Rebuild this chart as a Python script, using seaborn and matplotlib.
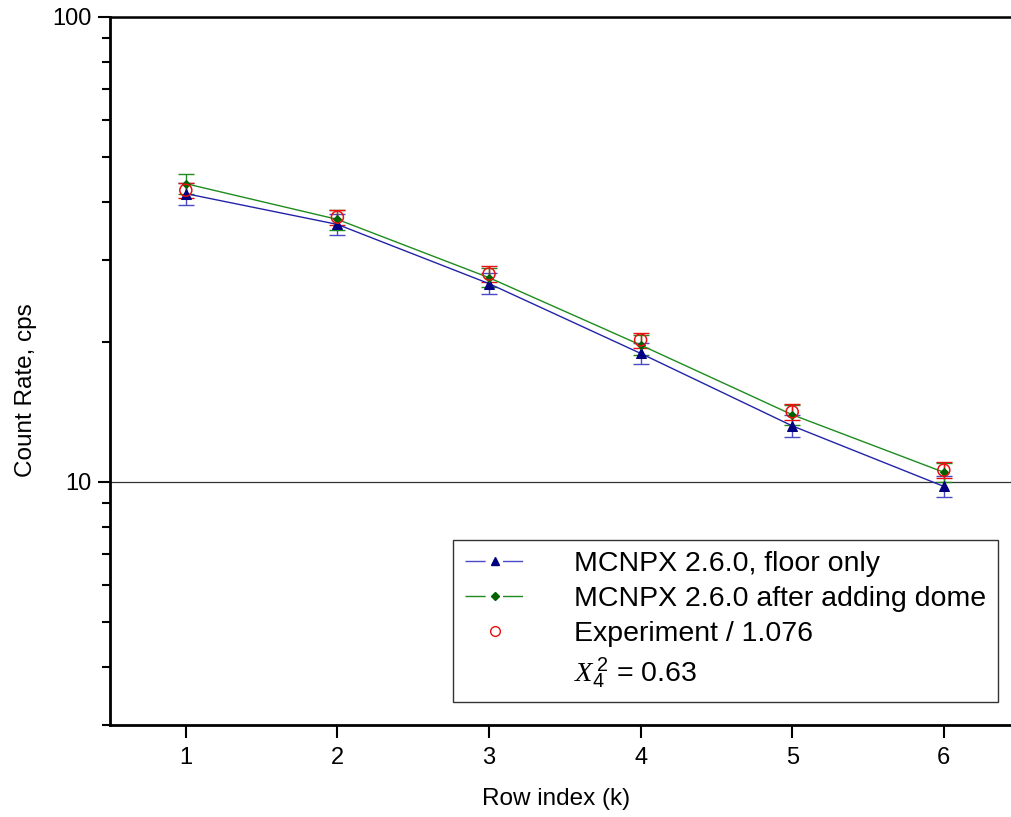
import numpy as np
import pandas as pd
import matplotlib
matplotlib.use("Agg")
import matplotlib.pyplot as plt
import seaborn as sns
from matplotlib.lines import Line2D
from matplotlib.ticker import LogLocator, NullFormatter, FixedLocator, FixedFormatter

# data
rows = [1, 2, 3, 4, 5, 6]
floor_only = [41.7, 35.8, 26.7, 18.9, 13.2, 9.78]
floor_err = [2.2, 1.9, 1.4, 1.0, 0.7, 0.52]
with_dome = [43.8, 36.7, 27.5, 19.7, 13.95, 10.49]
dome_err = [2.1, 1.8, 1.3, 0.95, 0.68, 0.5]
experiment = [42.4, 37.1, 28.0, 20.2, 14.15, 10.6]
exp_err = [1.6, 1.4, 1.1, 0.75, 0.55, 0.42]

labels = ["MCNPX 2.6.0, floor only",
          "MCNPX 2.6.0 after adding dome",
          "Experiment / 1.076"]

df = pd.DataFrame({"row": rows, "floor": floor_only, "dome": with_dome, "exp": experiment})

sns.set_style("ticks")
plt.rcParams["font.family"] = ["Liberation Sans", "DejaVu Sans"]
plt.rcParams["mathtext.fontset"] = "custom"
plt.rcParams["mathtext.it"] = "Liberation Serif:italic"
plt.rcParams["mathtext.rm"] = "Liberation Sans"
for k in ["text.color", "axes.labelcolor", "xtick.color", "ytick.color", "axes.edgecolor"]:
    plt.rcParams[k] = "black"

fig = plt.figure(figsize=(10.12, 8.17), dpi=100)
ax = fig.add_axes([110 / 1012, 92 / 817, 909.6 / 1012, 708 / 817])

blue_line = "#2323a8"
blue_mark = "#000080"
blue_err = "#4a4ac8"
green_line = "#1e8c1e"
green_mark = "#006400"
red = "#e81010"

# error bars
ax.errorbar(rows, floor_only, yerr=floor_err, fmt="none", ecolor=blue_err,
            elinewidth=1, capsize=6, capthick=1, zorder=2)
ax.errorbar(rows, with_dome, yerr=dome_err, fmt="none", ecolor=green_line,
            elinewidth=1, capsize=6, capthick=1, zorder=2)
ax.errorbar(rows, experiment, yerr=exp_err, fmt="none", ecolor=red,
            elinewidth=1, capsize=6, capthick=1, zorder=2)

sns.lineplot(data=df, x="row", y="floor", ax=ax, color=blue_line, lw=1,
             marker="^", markersize=7, markerfacecolor=blue_mark,
             markeredgecolor=blue_mark, zorder=3)
sns.lineplot(data=df, x="row", y="dome", ax=ax, color=green_line, lw=1,
             marker="D", markersize=4.5, markerfacecolor=green_mark,
             markeredgecolor=green_mark, zorder=3)
sns.scatterplot(data=df, x="row", y="exp", ax=ax, marker="o", s=75,
                facecolor="none", edgecolor=red, linewidth=1.1, zorder=4)

ax.set_yscale("log")
ax.set_xlim(0.5, 6.5)
ax.set_ylim(3, 100)
ax.set_xticks(rows)
ax.yaxis.set_major_locator(FixedLocator([10, 100]))
ax.yaxis.set_major_formatter(FixedFormatter(["10", "100"]))
ax.yaxis.set_minor_locator(LogLocator(base=10, subs=np.arange(2, 10)))
ax.yaxis.set_minor_formatter(NullFormatter())
ax.yaxis.grid(True, which="major", color="#333333", lw=0.9)

for s in ["left", "bottom"]:
    ax.spines[s].set_linewidth(2)
ax.spines["top"].set_linewidth(1.8)
ax.spines["right"].set_linewidth(1.5)
ax.tick_params(axis="both", which="major", direction="out", length=9, width=1.5,
               labelsize=17)
ax.tick_params(axis="x", which="major", pad=7)
ax.tick_params(axis="y", which="major", pad=4)
ax.tick_params(axis="y", which="minor", direction="out", length=5.5, width=1.5)
ax.tick_params(axis="x", which="minor", bottom=False)

ax.set_xlabel("Row index (k)", fontsize=17.5)
ax.set_ylabel("Count Rate, cps", fontsize=17.5)
ax.xaxis.set_label_coords((556 - 110) / 909.6, -(788 - 725) / 708)
ax.yaxis.set_label_coords(-(110 - 37) / 909.6, (725 - 390) / 708)

handles = [
    Line2D([], [], color=blue_err, lw=1, dashes=(14.5, 12.5), marker="^", markersize=6,
           markerfacecolor=blue_mark, markeredgecolor=blue_mark),
    Line2D([], [], color=green_line, lw=1, dashes=(14.5, 12.5), marker="D", markersize=4.5,
           markerfacecolor=green_mark, markeredgecolor=green_mark),
    Line2D([], [], ls="none", marker="o", markersize=7, markerfacecolor="none",
           markeredgecolor=red, markeredgewidth=1),
    Line2D([], [], ls="none"),
]
leg_labels = labels + [r"$X_4^{\,2}$ = 0.63"]
leg = ax.legend(handles, leg_labels, loc="lower right",
                bbox_to_anchor=(998 / 1012, 115 / 817), bbox_transform=fig.transFigure,
                fontsize=20.5, handlelength=2.1, handletextpad=1.75, labelspacing=0.3,
                borderpad=0.4, borderaxespad=0, fancybox=False, frameon=True)
leg.get_frame().set_edgecolor("black")
leg.get_frame().set_linewidth(1)

fig.savefig("out.png", dpi=100)
plt.close(fig)
